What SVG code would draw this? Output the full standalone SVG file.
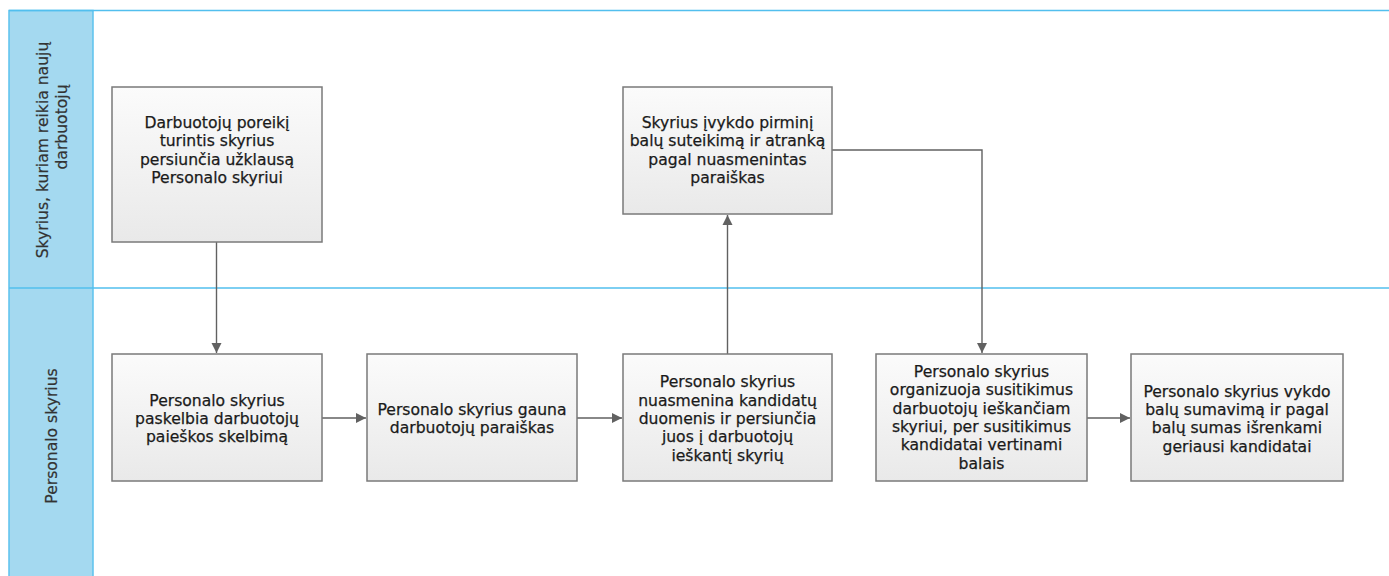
<svg xmlns="http://www.w3.org/2000/svg" width="1389" height="576" viewBox="0 0 1389 576">
<style>
.lane{fill:#a4d9f0;stroke:#5cc2ee;stroke-width:1.5}
.sep{stroke:#52bfee;stroke-width:1.5;fill:none}
.box{fill:url(#g);stroke:#7a7a7a;stroke-width:1.5}
.t{font-family:"DejaVu Sans",sans-serif;font-size:15.6px;fill:#1a1a1a;stroke:#1a1a1a;stroke-width:0.25;text-anchor:middle}
.lt{font-family:"DejaVu Sans",sans-serif;font-size:15.6px;fill:#333;stroke:#333;stroke-width:0.2;text-anchor:middle}
.c{fill:none;stroke:#616161;stroke-width:1.4}
</style>
<defs>
<linearGradient id="g" x1="0" y1="0" x2="0" y2="1">
<stop offset="0" stop-color="#fbfbfb"/>
<stop offset="1" stop-color="#e9e9e9"/>
</linearGradient>
<marker id="a" markerWidth="11" markerHeight="11" refX="10" refY="5.5" orient="auto" markerUnits="userSpaceOnUse">
<path d="M0,0.5 L10,5.5 L0,10.5 Z" fill="#616161"/>
</marker>
</defs>
<rect x="0" y="0" width="1389" height="576" fill="#fff"/>
<g id="lanes">
<rect class="lane" x="9" y="10.5" width="84" height="580"/>
<line class="sep" x1="9" y1="10.5" x2="1389" y2="10.5"/>
<line class="sep" x1="9" y1="288" x2="1389" y2="288"/>
<text class="lt" transform="translate(48,150) rotate(-90)">Skyrius, kuriam reikia naujų</text>
<text class="lt" transform="translate(67,127) rotate(-90)">darbuotojų</text>
<text class="lt" transform="translate(57,436) rotate(-90)">Personalo skyrius</text>
</g>
<g id="connectors">
<path class="c" d="M216.5,242 V353" marker-end="url(#a)"/>
<path class="c" d="M322,418 H366" marker-end="url(#a)"/>
<path class="c" d="M577,418 H622" marker-end="url(#a)"/>
<path class="c" d="M727.5,354 V215" marker-end="url(#a)"/>
<path class="c" d="M832,150 H982 V353" marker-end="url(#a)"/>
<path class="c" d="M1087,418 H1130" marker-end="url(#a)"/>
</g>
<g id="n1">
<rect class="box" x="112" y="87" width="210" height="155"/>
<text class="t" x="217" y="128">Darbuotojų poreikį</text>
<text class="t" x="217" y="146.3">turintis skyrius</text>
<text class="t" x="217" y="164.6">persiunčia užklausą</text>
<text class="t" x="217" y="182.9">Personalo skyriui</text>
</g>
<g id="n2">
<rect class="box" x="623" y="87" width="209" height="127"/>
<text class="t" x="727.5" y="128">Skyrius įvykdo pirminį</text>
<text class="t" x="727.5" y="146.3">balų suteikimą ir atranką</text>
<text class="t" x="727.5" y="164.6">pagal nuasmenintas</text>
<text class="t" x="727.5" y="182.9">paraiškas</text>
</g>
<g id="n3">
<rect class="box" x="112" y="354" width="210" height="127"/>
<text class="t" x="217" y="405.7">Personalo skyrius</text>
<text class="t" x="217" y="424">paskelbia darbuotojų</text>
<text class="t" x="217" y="442.3">paieškos skelbimą</text>
</g>
<g id="n4">
<rect class="box" x="367" y="354" width="210" height="127"/>
<text class="t" x="472" y="415">Personalo skyrius gauna</text>
<text class="t" x="472" y="433.3">darbuotojų paraiškas</text>
</g>
<g id="n5">
<rect class="box" x="623" y="354" width="209" height="127"/>
<text class="t" x="727.5" y="387.4">Personalo skyrius</text>
<text class="t" x="727.5" y="405.7">nuasmenina kandidatų</text>
<text class="t" x="727.5" y="424">duomenis ir persiunčia</text>
<text class="t" x="727.5" y="442.3">juos į darbuotojų</text>
<text class="t" x="727.5" y="460.6">ieškantį skyrių</text>
</g>
<g id="n6">
<rect class="box" x="876" y="354" width="211" height="127"/>
<text class="t" x="981.5" y="377">Personalo skyrius</text>
<text class="t" x="981.5" y="395.3">organizuoja susitikimus</text>
<text class="t" x="981.5" y="413.6">darbuotojų ieškančiam</text>
<text class="t" x="981.5" y="431.9">skyriui, per susitikimus</text>
<text class="t" x="981.5" y="450.2">kandidatai vertinami</text>
<text class="t" x="981.5" y="468.5">balais</text>
</g>
<g id="n7">
<rect class="box" x="1131" y="354" width="212" height="127"/>
<text class="t" x="1237" y="396.7">Personalo skyrius vykdo</text>
<text class="t" x="1237" y="415">balų sumavimą ir pagal</text>
<text class="t" x="1237" y="433.3">balų sumas išrenkami</text>
<text class="t" x="1237" y="451.6">geriausi kandidatai</text>
</g>
</svg>
